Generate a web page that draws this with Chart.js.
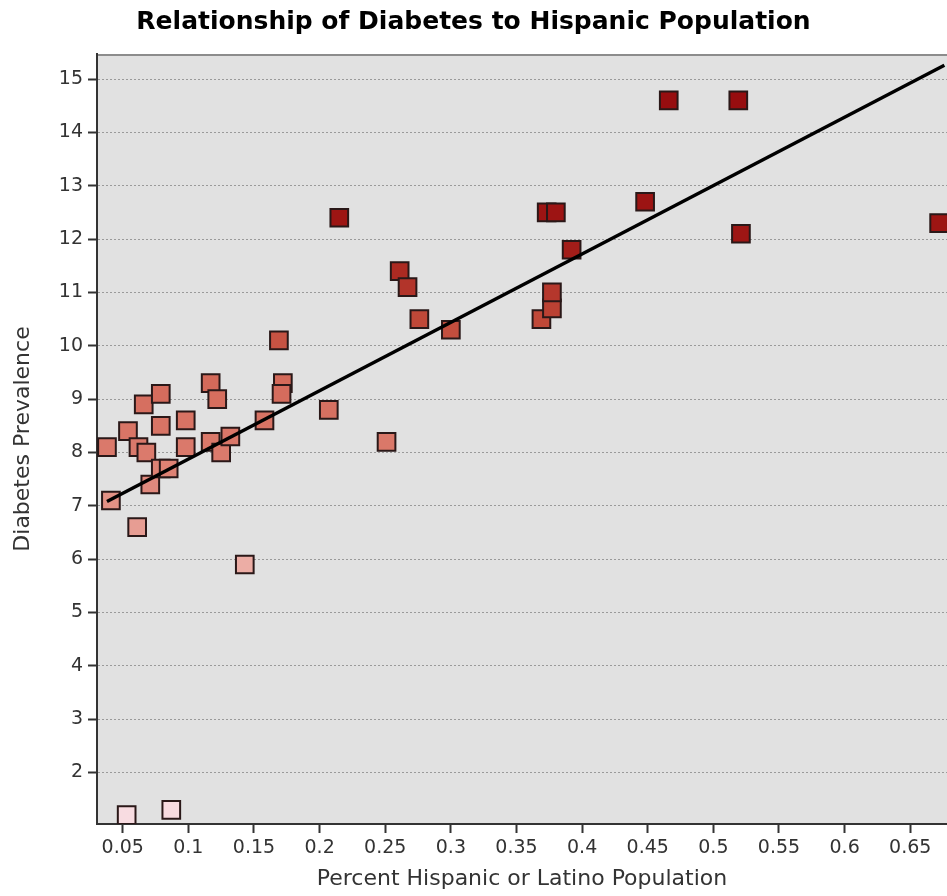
<!DOCTYPE html>
<html>
<head>
<meta charset="utf-8">
<title>Relationship of Diabetes to Hispanic Population</title>
<script src="https://cdn.jsdelivr.net/npm/chart.js@4.4.1/dist/chart.umd.min.js"></script>
<style>
  html, body { margin: 0; padding: 0; background: #fff; overflow: hidden; }
  canvas { display: block; }
</style>
</head>
<body>
<canvas id="chart" width="947" height="896"></canvas>
<script>
//values (one entry per county)
const hispanicPct = [
  0.038, 0.041, 0.054, 0.061, 0.062, 0.066, 0.068, 0.071, 0.079, 0.079,
  0.079, 0.085, 0.087, 0.053, 0.098, 0.098, 0.117, 0.122, 0.117, 0.125,
  0.132, 0.143, 0.158, 0.172, 0.171, 0.169, 0.207, 0.215, 0.251, 0.261,
  0.267, 0.276, 0.300, 0.369, 0.377, 0.377, 0.373, 0.380, 0.392, 0.448,
  0.466, 0.519, 0.521, 0.672
];
const diabetesRate = [
  8.1, 7.1, 8.4, 6.6, 8.1, 8.9, 8.0, 7.4, 9.1, 8.5,
  7.7, 7.7, 1.3, 1.2, 8.6, 8.1, 9.3, 9.0, 8.2, 8.0,
  8.3, 5.9, 8.6, 9.3, 9.1, 10.1, 8.8, 12.4, 8.2, 11.4,
  11.1, 10.5, 10.3, 10.5, 10.7, 11.0, 12.5, 12.5, 11.8, 12.7,
  14.6, 14.6, 12.1, 12.3
];

//end points of the fitted line
const trendX = [0.038, 0.676];
const trendY = [7.08, 15.26];

//tick labels
const xTickValues = [0.05, 0.1, 0.15, 0.2, 0.25, 0.3, 0.35, 0.4, 0.45, 0.5, 0.55, 0.6, 0.65];
const yTickValues = [2, 3, 4, 5, 6, 7, 8, 9, 10, 11, 12, 13, 14, 15];

//higher prevalence -> darker red
const colorStops = [
  [1, [249, 222, 228]],
  [6, [236, 172, 164]],
  [8, [219, 122, 108]],
  [9.3, [212, 106, 90]],
  [10.5, [192, 72, 56]],
  [12, [158, 22, 20]],
  [15, [150, 12, 14]]
];
function rateColor(v){
  for (let i = 1; i < colorStops.length; i++) {
    const [v0, c0] = colorStops[i - 1];
    const [v1, c1] = colorStops[i];
    if (v <= v1 || i == colorStops.length - 1) {
      const t = Math.max(0, Math.min(1, (v - v0) / (v1 - v0)));
      const c = c0.map((n, k) => Math.round(n + (c1[k] - n) * t));
      return `rgb(${c[0]},${c[1]},${c[2]})`;
    }
  }
}

const points = hispanicPct.map((x, i) => ({x: x, y: diabetesRate[i]}));
const trend = trendX.map((x, i) => ({x: x, y: trendY[i]}));

//grey plot area with a thin border on top
const plotBackground = {
  id: 'plotBackground',
  beforeDraw(chart){
    const {ctx, chartArea: a} = chart;
    ctx.save();
    ctx.fillStyle = '#e1e1e1';
    ctx.fillRect(a.left, a.top, a.right - a.left, a.bottom - a.top);
    ctx.strokeStyle = '#8c8c8c';
    ctx.lineWidth = 2;
    ctx.beginPath();
    ctx.moveTo(a.left, a.top + 1);
    ctx.lineTo(a.right, a.top + 1);
    ctx.stroke();
    ctx.restore();
  }
};

const tickFont = {family: 'DejaVu Sans', size: 19};
const titleFont = {family: 'DejaVu Sans', size: 22};

const chart = document.querySelector('#chart');
new Chart(chart, {
  type: 'scatter',
  data: {
    datasets: [{
      type: 'line',
      data: trend,
      borderColor: '#000',
      borderWidth: 3.5,
      pointRadius: 0,
      fill: false,
      order: 0
    }, {
      data: points,
      pointStyle: 'rect',
      pointRadius: 12.5,
      pointBorderWidth: 2,
      pointBorderColor: '#2a1818',
      pointBackgroundColor: diabetesRate.map(rateColor),
      order: 1
    }]
  },
  options: {
    responsive: false,
    animation: false,
    events: [],
    layout: {padding: 0, autoPadding: false},
    plugins: {
      legend: {display: false},
      tooltip: {enabled: false},
      title: {
        display: true,
        text: 'Relationship of Diabetes to Hispanic Population',
        font: {family: 'DejaVu Sans', size: 25, weight: 'bold'},
        lineHeight: 1.2,
        color: '#000',
        padding: {top: 7, bottom: 17}
      }
    },
    scales: {
      x: {
        type: 'linear',
        min: 0.0304,
        max: 0.678,
        afterBuildTicks: s => { s.ticks = xTickValues.map(v => ({value: v})); },
        afterFit: s => { s.height = 72; s.paddingLeft = 0; s.paddingRight = 0; },
        ticks: {
          callback: v => String(+v.toFixed(2)),
          font: tickFont,
          color: '#333',
          padding: 4,
          maxRotation: 0,
          autoSkip: false
        },
        grid: {drawOnChartArea: false, tickLength: 9, tickWidth: 2, tickColor: '#333'},
        border: {color: '#333', width: 2},
        title: {
          display: true,
          text: 'Percent Hispanic or Latino Population',
          font: titleFont,
          color: '#333',
          padding: {top: 0, bottom: 4}
        }
      },
      y: {
        min: 1.035,
        max: 15.47,
        afterBuildTicks: s => { s.ticks = yTickValues.map(v => ({value: v})); },
        afterFit: s => { s.width = 97; s.paddingTop = 0; s.paddingBottom = 0; },
        ticks: {font: tickFont, color: '#333', padding: 5},
        grid: {color: '#9a9a9a', lineWidth: 1, tickLength: 9, tickWidth: 2, tickColor: '#333'},
        border: {color: '#333', width: 2, dash: [2, 2]},
        title: {
          display: true,
          text: 'Diabetes Prevalence',
          font: titleFont,
          color: '#333',
          padding: {top: 10, bottom: 0}
        }
      }
    }
  },
  plugins: [plotBackground]
});
</script>
</body>
</html>
